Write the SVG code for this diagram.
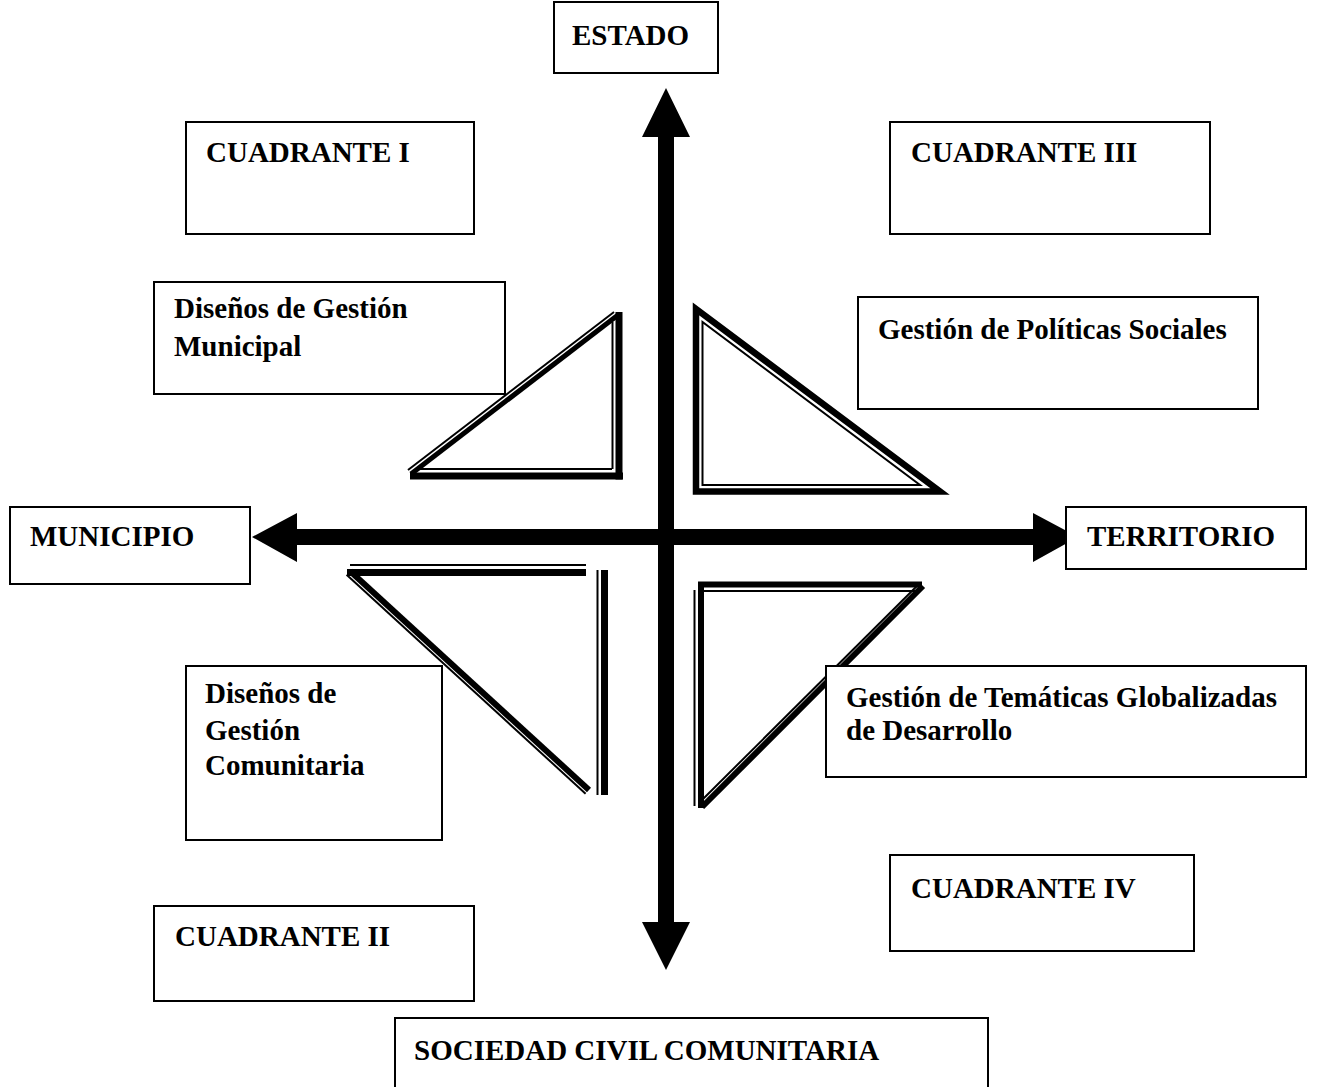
<svg xmlns="http://www.w3.org/2000/svg" width="1329" height="1087" viewBox="0 0 1329 1087">
<style>
.box{fill:#fff;stroke:#000;stroke-width:2}
.t{font-family:"Liberation Serif","Times New Roman",serif;font-weight:bold;font-size:29px;fill:#000}
.k{stroke:#000;fill:none;stroke-linecap:butt}
</style>
<rect width="1329" height="1087" fill="#fff"/>
<g id="connectors">
<polygon id="axis-v" fill="#000" points="666,88 690,137 674,137 674,922 690,922 666,970 642,922 658,922 658,137 642,137"/>
<polygon id="axis-h" fill="#000" points="252,537 297,513 297,529 1033,529 1033,513 1078,537 1033,562 1033,545 297,545 297,562"/>
</g>
<g id="triangles">
<g id="tri1">
<line class="k" x1="410" y1="476" x2="623" y2="476" stroke-width="7"/>
<line class="k" x1="619" y1="312" x2="619" y2="479.5" stroke-width="7"/>
<line class="k" x1="411" y1="474" x2="618" y2="315" stroke-width="5"/>
<line class="k" x1="418" y1="469" x2="612" y2="469" stroke-width="2"/>
<line class="k" x1="612.5" y1="322" x2="612.5" y2="469" stroke-width="2"/>
<line class="k" x1="408" y1="470" x2="614" y2="312" stroke-width="2"/>
</g>
<g id="tri2">
<polygon class="k" points="696,309 696,491.5 940,491.5" stroke-width="6.5" stroke-linejoin="miter"/>
<polygon class="k" points="702.5,322 702.5,485 920,485" stroke-width="2"/>
</g>
<g id="tri3">
<line class="k" x1="347" y1="572.5" x2="586" y2="572.5" stroke-width="7"/>
<line class="k" x1="350" y1="565" x2="586" y2="565" stroke-width="2"/>
<line class="k" x1="350" y1="571" x2="589" y2="790" stroke-width="6"/>
<line class="k" x1="346.6" y1="574.7" x2="585.6" y2="793.7" stroke-width="2"/>
<line class="k" x1="597.5" y1="570" x2="597.5" y2="795" stroke-width="2"/>
<line class="k" x1="604.5" y1="570" x2="604.5" y2="795" stroke-width="7"/>
</g>
<g id="tri4">
<line class="k" x1="701" y1="582" x2="701" y2="808" stroke-width="6"/>
<line class="k" x1="694.5" y1="590" x2="694.5" y2="806" stroke-width="2"/>
<line class="k" x1="698" y1="584.5" x2="922" y2="584.5" stroke-width="6"/>
<line class="k" x1="704" y1="591" x2="916" y2="591" stroke-width="2"/>
<line class="k" x1="923" y1="586" x2="702" y2="807" stroke-width="6"/>
<line class="k" x1="918.5" y1="584.5" x2="699.5" y2="802.5" stroke-width="2"/>
</g>
</g>
<g id="estado"><rect class="box" x="554" y="2" width="164" height="71"/><text class="t" x="572" y="45">ESTADO</text></g>
<g id="cuadrante1"><rect class="box" x="186" y="122" width="288" height="112"/><text class="t" x="206" y="162">CUADRANTE I</text></g>
<g id="cuadrante3"><rect class="box" x="890" y="122" width="320" height="112"/><text class="t" x="911" y="162">CUADRANTE III</text></g>
<g id="municipal"><rect class="box" x="154" y="282" width="351" height="112"/><text class="t" x="174" y="318">Diseños de Gestión</text><text class="t" x="174" y="356">Municipal</text></g>
<g id="politicas"><rect class="box" x="858" y="297" width="400" height="112"/><text class="t" x="878" y="339">Gestión de Políticas Sociales</text></g>
<g id="municipio"><rect class="box" x="10" y="507" width="240" height="77"/><text class="t" x="30" y="546">MUNICIPIO</text></g>
<g id="territorio"><rect class="box" x="1066" y="507" width="240" height="62"/><text class="t" x="1087" y="546">TERRITORIO</text></g>
<g id="comunitaria"><rect class="box" x="186" y="666" width="256" height="174"/><text class="t" x="205" y="703">Diseños de</text><text class="t" x="205" y="740">Gestión</text><text class="t" x="205" y="775">Comunitaria</text></g>
<g id="tematicas"><rect class="box" x="826" y="666" width="480" height="111"/><text class="t" x="846" y="707">Gestión de Temáticas Globalizadas</text><text class="t" x="846" y="740">de Desarrollo</text></g>
<g id="cuadrante4"><rect class="box" x="890" y="855" width="304" height="96"/><text class="t" x="911" y="898">CUADRANTE IV</text></g>
<g id="cuadrante2"><rect class="box" x="154" y="906" width="320" height="95"/><text class="t" x="175" y="946">CUADRANTE II</text></g>
<g id="sociedad"><rect class="box" x="395" y="1018" width="593" height="75"/><text class="t" x="414" y="1060">SOCIEDAD CIVIL COMUNITARIA</text></g>
</svg>
